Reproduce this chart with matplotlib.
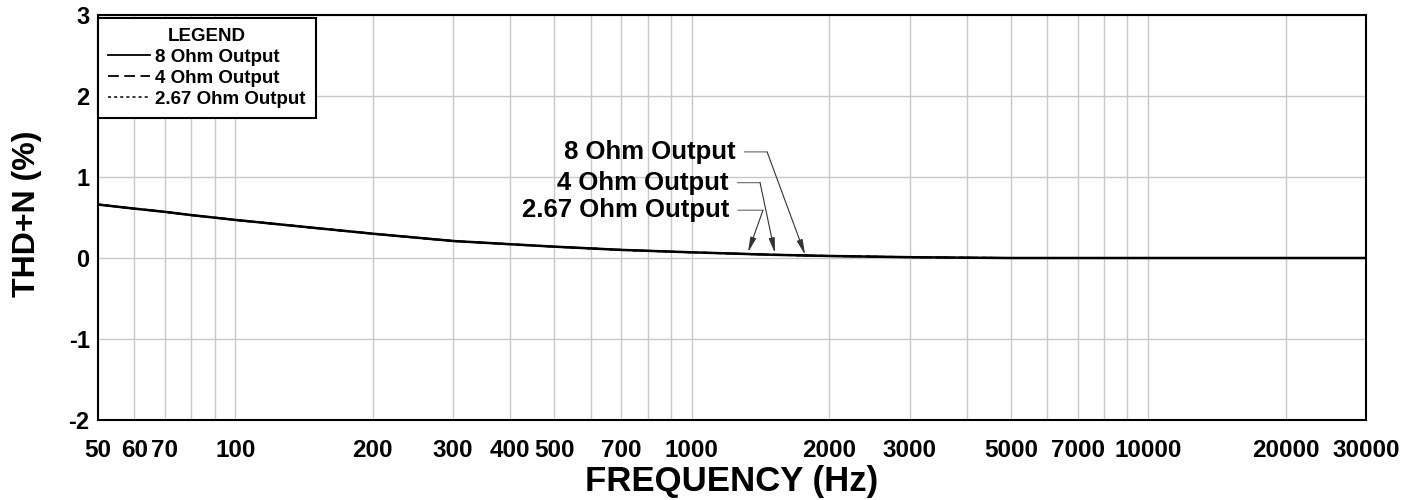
"""THD+N vs frequency for 8 / 4 / 2.67 ohm outputs."""

import numpy as np
import matplotlib
matplotlib.use("Agg")
import matplotlib.pyplot as plt
from matplotlib.lines import Line2D
from matplotlib.ticker import FixedLocator, NullFormatter

plt.rcParams["font.family"] = ["Liberation Sans", "DejaVu Sans"]
plt.rcParams["font.weight"] = "bold"

# curve readings (Hz, %)
freq = [50, 60, 70, 80, 100, 150, 200, 300, 400, 500, 700, 1000,
        1500, 2000, 3000, 4000, 5000, 10000, 20000, 30000]
thd_8 = [0.66, 0.61, 0.57, 0.53, 0.47, 0.37, 0.30, 0.21, 0.17, 0.14, 0.10, 0.07,
         0.04, 0.025, 0.01, 0.004, 0.0, 0.0, 0.0, 0.0]
thd_4 = [0.66, 0.61, 0.57, 0.53, 0.47, 0.37, 0.30, 0.21, 0.17, 0.14, 0.10, 0.07,
         0.04, 0.025, 0.01, 0.004, 0.0, 0.0, 0.0, 0.0]
thd_267 = [0.66, 0.61, 0.57, 0.53, 0.47, 0.37, 0.30, 0.21, 0.17, 0.14, 0.10, 0.07,
           0.04, 0.025, 0.01, 0.004, 0.0, 0.0, 0.0, 0.0]

xtick_vals = [50, 60, 70, 100, 200, 300, 400, 500, 700, 1000,
              2000, 3000, 5000, 7000, 10000, 20000, 30000]
ytick_vals = [-2, -1, 0, 1, 2, 3]

# callouts: label, text anchor (right edge), elbow, arrow tip  -- all (Hz, %)
callouts = [
    ("8 Ohm Output", (1250, 1.31), (1462, 1.31), (1771, 0.04)),
    ("4 Ohm Output", (1206, 0.93), (1411, 0.93), (1521, 0.06)),
    ("2.67 Ohm Output", (1210, 0.59), (1432, 0.59), (1328, 0.07)),
]

fig = plt.figure(figsize=(14.17, 5.0), dpi=100)
ax = fig.add_axes([98 / 1417, 1 - 420 / 500, (1366 - 98) / 1417, 405 / 500])

ax.set_xscale("log")
ax.set_xlim(50, 30000)
ax.set_ylim(-2, 3)

# grid: every 1..9 per decade
minor = [m * 10 ** d for d in range(1, 5) for m in range(1, 10)]
minor = [v for v in minor if 50 < v < 30000]
ax.xaxis.set_minor_locator(FixedLocator(minor))
ax.xaxis.set_minor_formatter(NullFormatter())
ax.xaxis.set_major_locator(FixedLocator(xtick_vals))
ax.set_xticklabels([str(v) for v in xtick_vals])
ax.set_yticks(ytick_vals)
ax.set_yticklabels([str(v) for v in ytick_vals])
ax.grid(True, which="both", axis="x", color="#c8c8c8", lw=1.0)
ax.grid(True, which="major", axis="y", color="#c8c8c8", lw=1.0)
ax.tick_params(which="both", length=0)
ax.tick_params(axis="x", labelsize=17.5, pad=13.5)
ax.tick_params(axis="y", labelsize=17, pad=6)
for s in ax.spines.values():
    s.set_color("black")
    s.set_linewidth(1.5)

ax.plot(freq, thd_267, color="black", lw=1.4, ls=(0, (2, 2)), zorder=3)
ax.plot(freq, thd_4, color="black", lw=1.4, ls=(0, (8, 4)), zorder=3)
ax.plot(freq, thd_8, color="black", lw=1.8, zorder=4)

for label, anchor, elbow, tip in callouts:
    ax.text(anchor[0], anchor[1], label, ha="right", va="center",
            fontsize=18.5, fontweight="bold")
    # horizontal lead from the label to the elbow
    ax.annotate("", xy=elbow, xytext=anchor,
                arrowprops=dict(arrowstyle="-", color="#666666", lw=0.8,
                                shrinkA=6, shrinkB=0))
    ax.annotate("", xy=tip, xytext=elbow,
                arrowprops=dict(arrowstyle="-|>,head_length=0.9,head_width=0.18",
                                color="#333333", lw=0.8, shrinkA=0, shrinkB=0))

ax.set_xlabel("FREQUENCY (Hz)", fontsize=25, fontweight="bold", labelpad=2.5)
ax.set_ylabel("THD+N (%)", fontsize=23, fontweight="bold")
ax.yaxis.set_label_coords(-0.044, 0.51)

handles = [
    Line2D([], [], color="black", lw=1.3),
    Line2D([], [], color="black", lw=1.3, ls=(0, (6, 3))),
    Line2D([], [], color="black", lw=1.1, ls=(0, (2, 2))),
]
leg = ax.legend(handles, ["8 Ohm Output", "4 Ohm Output", "2.67 Ohm Output"],
                title="LEGEND", loc="upper left", fontsize=13.5,
                title_fontproperties={"weight": "bold", "size": 13.5},
                fancybox=False, framealpha=1, edgecolor="black",
                bbox_to_anchor=(0, 0.993), borderaxespad=0,
                handlelength=2.2, handletextpad=0.3,
                labelspacing=0.2, borderpad=0.55)
leg.get_frame().set_linewidth(1.5)
for t in leg.get_texts():
    t.set_fontweight("bold")

fig.savefig("out.png", dpi=100)
